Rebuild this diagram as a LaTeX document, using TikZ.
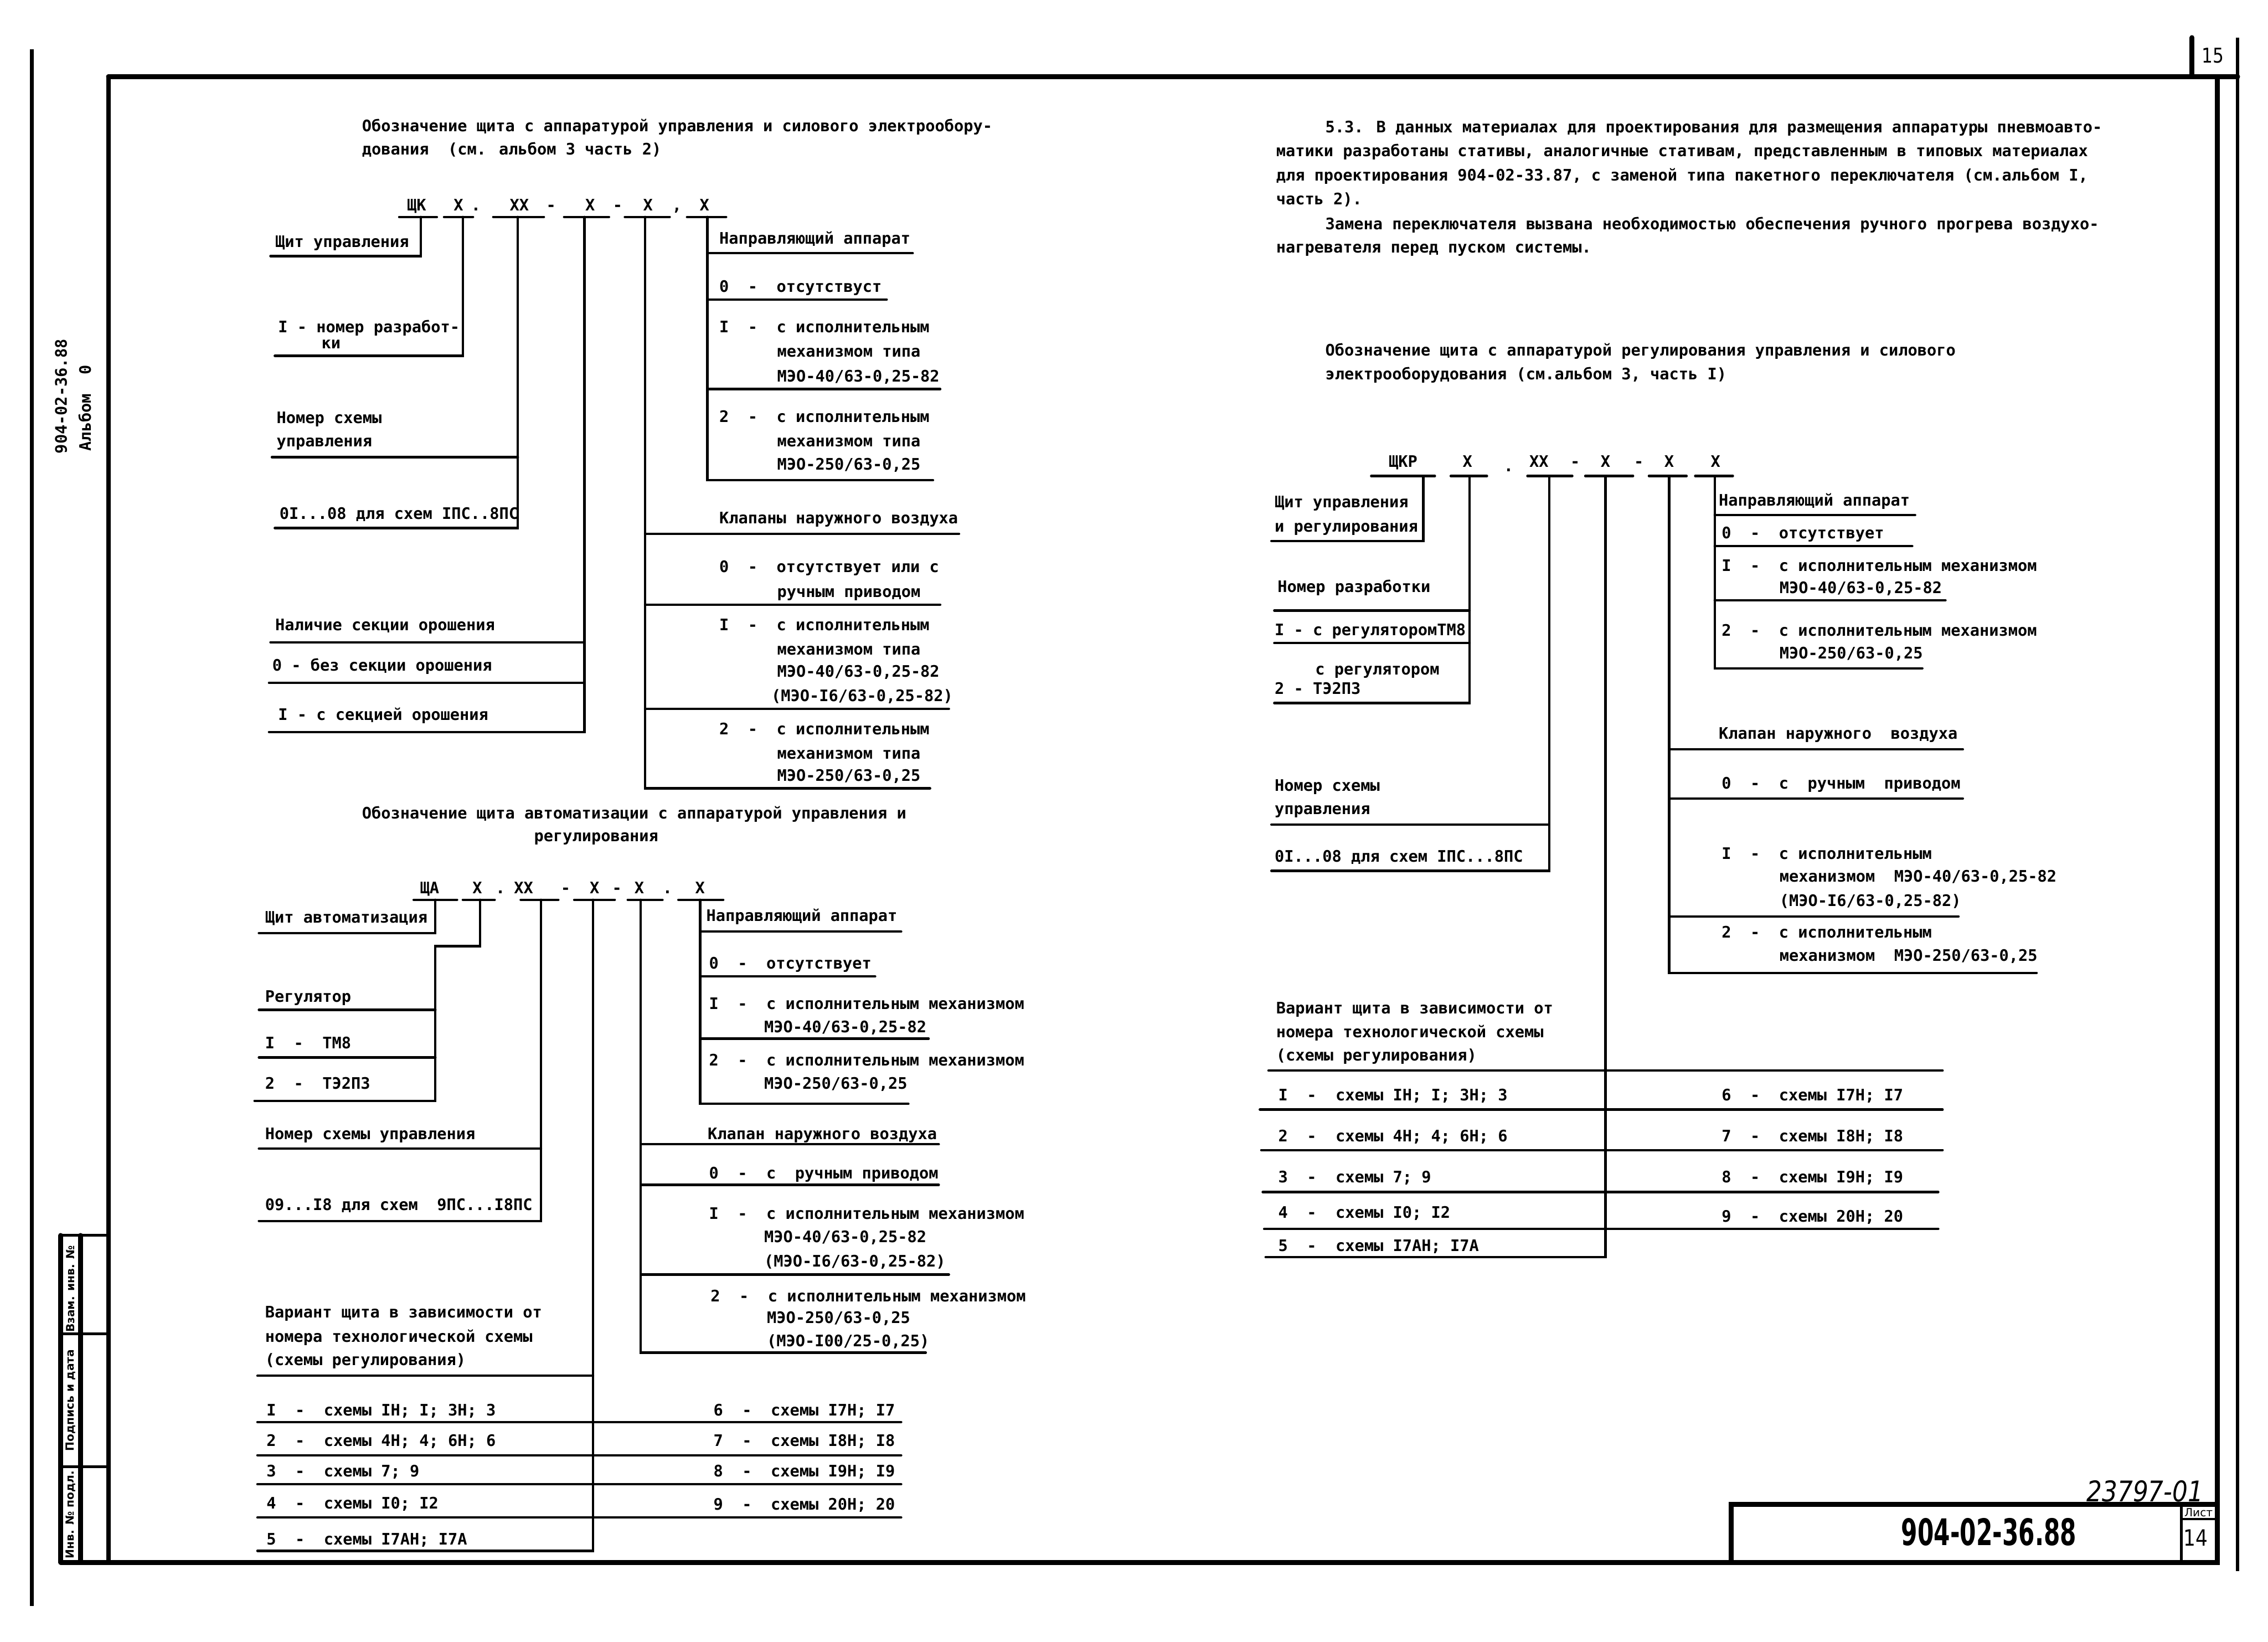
\documentclass[tikz,border=0pt]{standalone}
\usepackage{fontspec}
\setmainfont{DejaVu Sans Mono}
\newfontfamily\titlefont{DejaVu Sans}[FakeStretch=0.64]
\newfontfamily\handfont{DejaVu Sans}[FakeStretch=0.85]
\newfontfamily\stampfont{DejaVu Sans}
\tikzset{
  txt/.style={anchor=west, inner sep=0pt, text height=5.6pt, text depth=1.6pt,
              font=\fontsize{7.8}{10}\selectfont\bfseries},
  sym/.style={txt, anchor=center},
  rule/.style={line width=1.2pt, line cap=round},
  frame/.style={line width=2.4pt, line cap=round},
  stamp/.style={inner sep=0pt, rotate=90, font=\stampfont\bfseries\fontsize{5.5}{6}\selectfont},
}
\begin{document}
\begin{tikzpicture}[x=0.025cm, y=-0.025cm]
\path[fill=white, use as bounding box] (0,0) rectangle (1568,1135);

\draw[frame] (75,53) -- (1547,53);
\draw[frame] (75,53) -- (75,1080) -- (1533,1080) -- (1533,53);
\draw[frame] (1515.5,26) -- (1515.5,53);
\draw[line width=1.6pt] (1547,26) -- (1547,1086);
\draw[line width=1.8pt] (22,34) -- (22,1110);
\node[font=\handfont\fontsize{10}{11}\selectfont, inner sep=0pt] (pageno) at (1530,38.5) {15};

\draw[frame] (1197,1080) -- (1197,1040) -- (1533,1040);
\draw[line width=1.2pt] (1508,1040) -- (1508,1080);
\draw[line width=1.2pt] (1508,1050) -- (1533,1050);
\node[font=\titlefont\bfseries\fontsize{18}{20}\selectfont, inner sep=0pt] (title) at (1375,1059) {904-02-36.88};
\node[font=\stampfont\fontsize{5.5}{6}\selectfont, inner sep=0pt] (sheetlbl) at (1520,1045.5) {Лист};
\node[font=\handfont\fontsize{11}{12}\selectfont, inner sep=0pt] (sheetno) at (1518,1063) {14};
\node[font=\handfont\itshape\fontsize{14}{15}\selectfont, inner sep=0pt] (invno) at (1483,1031) {23797-01};

\draw[frame] (42,854) -- (42,1080);
\draw[frame] (55.7,854) -- (55.7,1080);
\draw[line width=1.4pt] (42,854) -- (75,854);
\draw[line width=1.4pt] (42,922) -- (75,922);
\draw[line width=1.4pt] (42,1014) -- (75,1014);
\draw[frame] (42,1080) -- (75,1080);
\node[stamp] (stamp1) at (48.8,891) {Взам. инв. №};
\node[stamp] (stamp2) at (48.8,968) {Подпись и дата};
\node[stamp] (stamp3) at (48.8,1047) {Инв. № подл.};
\node[sym, rotate=90] (album1) at (43.4,274) {904-02-36.88};
\node[sym, rotate=90] (album2) at (60,282) {Альбом~~0};

\node[txt] (aHead1) at (250,88) {Обозначение щита с аппаратурой управления и силового электрообору-};
\node[txt] (aHead2) at (250,104) {дования~~(см. альбом 3 часть 2)};
\foreach \x/\s [count=\i] in {288/ЩК,317/Х,329/.,359/ХХ,381/-,408/Х,427/-,448/Х,468/{,},487/Х}
  \node[sym] (aSym\i) at (\x,143) {\s};
\foreach \a/\b in {276/302,307/327,341/376,390/421,432/463,475/502}
  \draw[rule] (\a,150) -- (\b,150);
\coordinate (aTop0) at (291,150);
\coordinate (aTop1) at (320,150);
\coordinate (aTop2) at (358,150);
\coordinate (aTop3) at (404,150);
\coordinate (aTop4) at (446,150);
\coordinate (aTop5) at (489,150);
\draw[rule] (aTop0) |- (187,177);
\draw[rule] (aTop1) |- (190,246);
\draw[rule] (aTop2) |- (190,365);
\draw[rule] (188,316) -- (358,316);
\draw[rule] (aTop3) |- (186,506);
\draw[rule] (187,444) -- (404,444);
\draw[rule] (186,472) -- (404,472);
\draw[rule] (aTop5) |- (645,332);
\draw[rule] (489,175) -- (631,175);
\draw[rule] (489,207) -- (613,207);
\draw[rule] (489,269) -- (650,269);
\draw[rule] (aTop4) |- (643,545);
\draw[rule] (446,369) -- (663,369);
\draw[rule] (446,418) -- (650,418);
\draw[rule] (446,490) -- (656,490);

\node[txt] (aPanel) at (190,168) {Щит управления};
\node[txt] (aDev1) at (192,227) {I - номер разработ-};
\node[txt] (aDev2) at (222,238) {ки};
\node[txt] (aSch1) at (191,290) {Номер схемы};
\node[txt] (aSch2) at (191,306) {управления};
\node[txt] (aSch3) at (193,356) {0I...08 для схем IПС..8ПС};
\node[txt] (aSpr1) at (190,433) {Наличие секции орошения};
\node[txt] (aSpr2) at (188,461) {0 - без секции орошения};
\node[txt] (aSpr3) at (192,495) {I - с секцией орошения};
\node[txt] (aGuide) at (497,166) {Направляющий аппарат};
\node[txt] (aGuide0) at (497,199) {0~~-~~отсутствуст};
\node[txt] (aGuide1a) at (497,227) {I~~-~~с исполнительным};
\node[txt] (aGuide1b) at (537,244) {механизмом типа};
\node[txt] (aGuide1c) at (537,261) {МЭО-40/63-0,25-82};
\node[txt] (aGuide2a) at (497,289) {2~~-~~с исполнительным};
\node[txt] (aGuide2b) at (537,306) {механизмом типа};
\node[txt] (aGuide2c) at (537,322) {МЭО-250/63-0,25};
\node[txt] (aValve) at (497,359) {Клапаны наружного воздуха};
\node[txt] (aValve0a) at (497,393) {0~~-~~отсутствует или с};
\node[txt] (aValve0b) at (537,410) {ручным приводом};
\node[txt] (aValve1a) at (497,433) {I~~-~~с исполнительным};
\node[txt] (aValve1b) at (537,450) {механизмом типа};
\node[txt] (aValve1c) at (537,465) {МЭО-40/63-0,25-82};
\node[txt] (aValve1d) at (533,482) {(МЭО-I6/63-0,25-82)};
\node[txt] (aValve2a) at (497,505) {2~~-~~с исполнительным};
\node[txt] (aValve2b) at (537,522) {механизмом типа};
\node[txt] (aValve2c) at (537,537) {МЭО-250/63-0,25};

\node[txt] (bHead1) at (250,563) {Обозначение щита автоматизации с аппаратурой управления и};
\node[txt] (bHead2) at (369,579) {регулирования};
\foreach \x/\s [count=\i] in {297/ЩА,330/Х,346/.,362/ХХ,391/-,411/Х,426.5/-,442/Х,461.5/.,484/Х}
  \node[sym] (bSym\i) at (\x,615) {\s};
\foreach \a/\b in {286/316,320/342,360/386,397/425,434/458,469/500}
  \draw[rule] (\a,622) -- (\b,622);
\coordinate (bTop0) at (301,622);
\coordinate (bTop1) at (332,622);
\coordinate (bTop2) at (374,622);
\coordinate (bTop3) at (410,622);
\coordinate (bTop4) at (443,622);
\coordinate (bTop5) at (484,622);
\draw[rule] (bTop0) |- (179,645);
\draw[rule] (bTop1) -- (332,654) -- (301,654) |- (176,761);
\draw[rule] (179,698) -- (301,698);
\draw[rule] (179,731) -- (301,731);
\draw[rule] (bTop2) |- (179,844);
\draw[rule] (179,794) -- (374,794);
\draw[rule] (bTop3) |- (178,1072);
\draw[rule] (178,951) -- (410,951);
\foreach \y in {983,1006,1026,1049}
  \draw[rule] (178,\y) -- (623,\y);
\draw[rule] (bTop4) |- (640,935);
\draw[rule] (443,791) -- (649,791);
\draw[rule] (443,819) -- (649,819);
\draw[rule] (443,881) -- (656,881);
\draw[rule] (bTop5) |- (628,763);
\draw[rule] (484,644) -- (623,644);
\draw[rule] (484,675) -- (605,675);
\draw[rule] (484,718) -- (642,718);

\node[txt] (bPanel) at (183,635) {Щит автоматизация};
\node[txt] (bReg) at (183,690) {Регулятор};
\node[txt] (bReg1) at (183,722) {I~~-~~ТМ8};
\node[txt] (bReg2) at (183,750) {2~~-~~ТЭ2ПЗ};
\node[txt] (bSch1) at (183,785) {Номер схемы управления};
\node[txt] (bSch2) at (183,834) {09...I8 для схем~~9ПС...I8ПС};
\node[txt] (bVar1) at (183,908) {Вариант щита в зависимости от};
\node[txt] (bVar2) at (183,925) {номера технологической схемы};
\node[txt] (bVar3) at (183,941) {(схемы регулирования)};
\node[txt] (bRow1) at (184,976) {I~~-~~схемы IН; I; 3Н; 3};
\node[txt] (bRow2) at (184,997) {2~~-~~схемы 4Н; 4; 6Н; 6};
\node[txt] (bRow3) at (184,1018) {3~~-~~схемы 7; 9};
\node[txt] (bRow4) at (184,1040) {4~~-~~схемы I0; I2};
\node[txt] (bRow5) at (184,1065) {5~~-~~схемы I7АН; I7А};
\node[txt] (bRow6) at (493,976) {6~~-~~схемы I7Н; I7};
\node[txt] (bRow7) at (493,997) {7~~-~~схемы I8Н; I8};
\node[txt] (bRow8) at (493,1018) {8~~-~~схемы I9Н; I9};
\node[txt] (bRow9) at (493,1041) {9~~-~~схемы 20Н; 20};
\node[txt] (bGuide) at (488,634) {Направляющий аппарат};
\node[txt] (bGuide0) at (490,667) {0~~-~~отсутствует};
\node[txt] (bGuide1a) at (490,695) {I~~-~~с исполнительным механизмом};
\node[txt] (bGuide1b) at (528,711) {МЭО-40/63-0,25-82};
\node[txt] (bGuide2a) at (490,734) {2~~-~~с исполнительным механизмом};
\node[txt] (bGuide2b) at (528,750) {МЭО-250/63-0,25};
\node[txt] (bValve) at (489,785) {Клапан наружного воздуха};
\node[txt] (bValve0) at (490,812) {0~~-~~с~~ручным приводом};
\node[txt] (bValve1a) at (490,840) {I~~-~~с исполнительным механизмом};
\node[txt] (bValve1b) at (528,856) {МЭО-40/63-0,25-82};
\node[txt] (bValve1c) at (528,873) {(МЭО-I6/63-0,25-82)};
\node[txt] (bValve2a) at (491,897) {2~~-~~с исполнительным механизмом};
\node[txt] (bValve2b) at (530,912) {МЭО-250/63-0,25};
\node[txt] (bValve2c) at (530,928) {(МЭО-I00/25-0,25)};

\node[txt] (pLine1) at (916,89) {5.3. В данных материалах для проектирования для размещения аппаратуры пневмоавто-};
\node[txt] (pLine2) at (882,105.5) {матики разработаны стативы, аналогичные стативам, представленным в типовых материалах};
\node[txt] (pLine3) at (882,122) {для проектирования 904-02-33.87, с заменой типа пакетного переключателя (см.альбом I,};
\node[txt] (pLine4) at (882,138.5) {часть 2).};
\node[txt] (pLine5) at (916,156) {Замена переключателя вызвана необходимостью обеспечения ручного прогрева воздухо-};
\node[txt] (pLine6) at (882,172) {нагревателя перед пуском системы.};

\node[txt] (cHead1) at (916,243) {Обозначение щита с аппаратурой регулирования управления и силового};
\node[txt] (cHead2) at (916,259.5) {электрооборудования (см.альбом 3, часть I)};
\foreach \x/\s [count=\i] in {970/ЩКР,1014.5/Х,1064/ХХ,1089/-,1110/Х,1133/-,1154/Х,1186/Х}
  \node[sym] (cSym\i) at (\x,320) {\s};
\node[sym] (cDot) at (1043,323) {.};
\foreach \a/\b in {948/992,1003/1028,1056/1087,1096/1129,1140/1166,1172/1198}
  \draw[rule] (\a,329) -- (\b,329);
\coordinate (cTop0) at (984,329);
\coordinate (cTop1) at (1016,329);
\coordinate (cTop2) at (1071,329);
\coordinate (cTop3) at (1110,329);
\coordinate (cTop4) at (1154,329);
\coordinate (cTop5) at (1185.5,329);
\draw[rule] (cTop0) |- (879,374);
\draw[rule] (cTop1) |- (881,486);
\draw[rule] (881,422) -- (1016,422);
\draw[rule] (881,444.5) -- (1016,444.5);
\draw[rule] (cTop2) |- (879,602);
\draw[rule] (879,570) -- (1071,570);
\draw[rule] (cTop3) |- (875,869);
\draw[rule] (877,740) -- (1343,740);
\draw[rule] (871,767) -- (1343,767);
\draw[rule] (872,795) -- (1343,795);
\draw[rule] (873,824) -- (1340,824);
\draw[rule] (874,849.5) -- (1340,849.5);
\draw[rule] (cTop4) |- (1408,672.5);
\draw[rule] (1154,518) -- (1357,518);
\draw[rule] (1154,552) -- (1357,552);
\draw[rule] (1154,633.5) -- (1354,633.5);
\draw[rule] (cTop5) |- (1329,462);
\draw[rule] (1185.5,356) -- (1324,356);
\draw[rule] (1185.5,377.5) -- (1322,377.5);
\draw[rule] (1185.5,415) -- (1345,415);

\node[txt] (cPanel1) at (881,348) {Щит управления};
\node[txt] (cPanel2) at (881,365) {и регулирования};
\node[txt] (cDev) at (883,406.5) {Номер разработки};
\node[txt] (cDev1) at (881,436.5) {I - с регуляторомТМ8};
\node[txt] (cDev2a) at (909,463.5) {с регулятором};
\node[txt] (cDev2b) at (881,477) {2 - ТЭ2ПЗ};
\node[txt] (cSch1) at (881,544) {Номер схемы};
\node[txt] (cSch2) at (881,560) {управления};
\node[txt] (cSch3) at (881,593) {0I...08 для схем IПС...8ПС};
\node[txt] (cVar1) at (882,698) {Вариант щита в зависимости от};
\node[txt] (cVar2) at (882,714.5) {номера технологической схемы};
\node[txt] (cVar3) at (882,730.5) {(схемы регулирования)};
\node[txt] (cRow1) at (883.5,758) {I~~-~~схемы IН; I; 3Н; 3};
\node[txt] (cRow2) at (883.5,786.5) {2~~-~~схемы 4Н; 4; 6Н; 6};
\node[txt] (cRow3) at (883.5,814.5) {3~~-~~схемы 7; 9};
\node[txt] (cRow4) at (883.5,839) {4~~-~~схемы I0; I2};
\node[txt] (cRow5) at (883.5,862) {5~~-~~схемы I7АН; I7А};
\node[txt] (cRow6) at (1190,758) {6~~-~~схемы I7Н; I7};
\node[txt] (cRow7) at (1190,786.5) {7~~-~~схемы I8Н; I8};
\node[txt] (cRow8) at (1190,814.5) {8~~-~~схемы I9Н; I9};
\node[txt] (cRow9) at (1190,842) {9~~-~~схемы 20Н; 20};
\node[txt] (cGuide) at (1188,347) {Направляющий аппарат};
\node[txt] (cGuide0) at (1190,369.5) {0~~-~~отсутствует};
\node[txt] (cGuide1a) at (1190,392) {I~~-~~с исполнительным механизмом};
\node[txt] (cGuide1b) at (1230,407.5) {МЭО-40/63-0,25-82};
\node[txt] (cGuide2a) at (1190,437) {2~~-~~с исполнительным механизмом};
\node[txt] (cGuide2b) at (1230,452.5) {МЭО-250/63-0,25};
\node[txt] (cValve) at (1188,508) {Клапан наружного~~воздуха};
\node[txt] (cValve0) at (1190,542.5) {0~~-~~с~~ручным~~приводом};
\node[txt] (cValve1a) at (1190,591) {I~~-~~с исполнительным};
\node[txt] (cValve1b) at (1230,607) {механизмом~~МЭО-40/63-0,25-82};
\node[txt] (cValve1c) at (1230,623.5) {(МЭО-I6/63-0,25-82)};
\node[txt] (cValve2a) at (1190,645.5) {2~~-~~с исполнительным};
\node[txt] (cValve2b) at (1230,661.5) {механизмом~~МЭО-250/63-0,25};
\end{tikzpicture}
\end{document}
